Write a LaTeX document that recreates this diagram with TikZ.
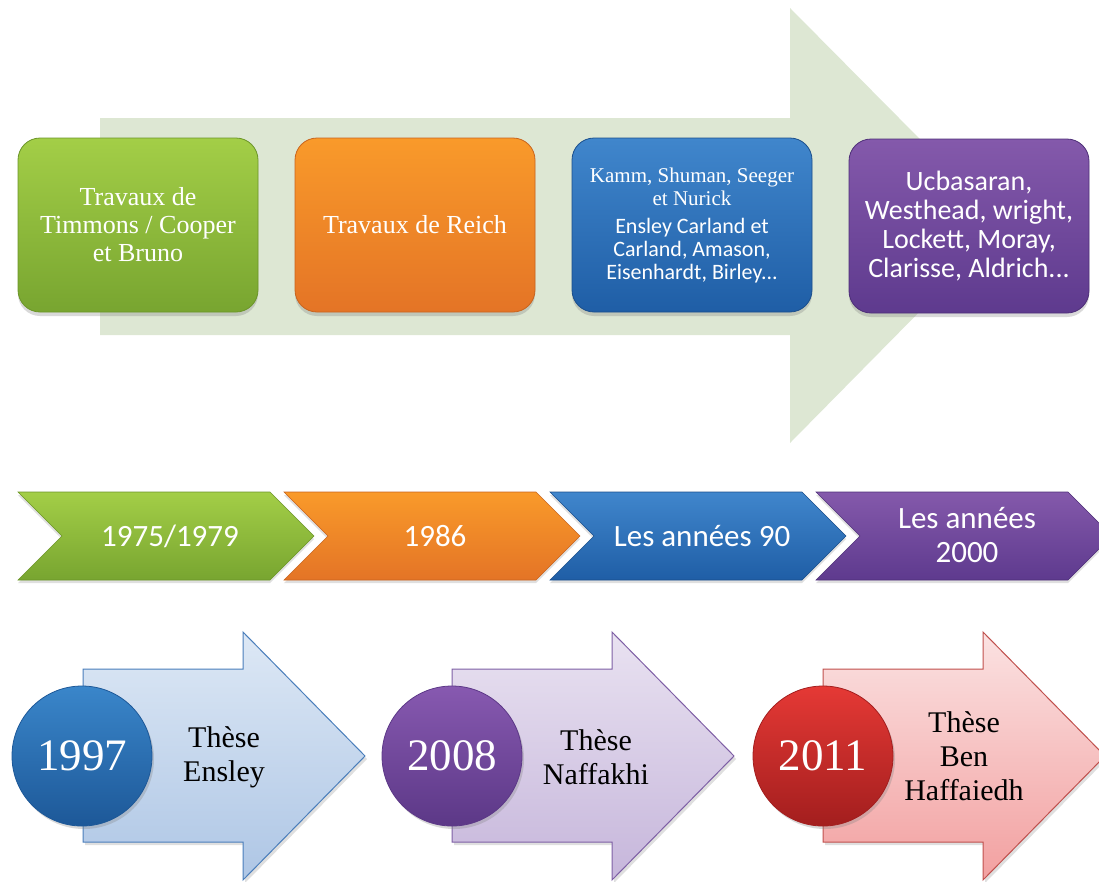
\documentclass[tikz,border=0pt]{standalone}
\usepackage{fontspec}
\setmainfont{Liberation Serif}
\newfontfamily\calibri{Carlito}
\usetikzlibrary{shadows}
\definecolor{grnT}{HTML}{A3CE47}\definecolor{grnB}{HTML}{78A530}\definecolor{grnD}{HTML}{6B9528}
\definecolor{orgT}{HTML}{F99A2A}\definecolor{orgB}{HTML}{E47426}\definecolor{orgD}{HTML}{C8641E}
\definecolor{bluT}{HTML}{4086CC}\definecolor{bluB}{HTML}{1F5EA6}\definecolor{bluD}{HTML}{1B4F8C}
\definecolor{purT}{HTML}{8459AB}\definecolor{purB}{HTML}{5E3A8E}\definecolor{purD}{HTML}{4E2F78}
\definecolor{bigA}{HTML}{DDE7D3}
\definecolor{lbT}{HTML}{DDE8F5}\definecolor{lbB}{HTML}{AEC6E5}\definecolor{lbD}{HTML}{4A7EBB}
\definecolor{lpT}{HTML}{E9E2F1}\definecolor{lpB}{HTML}{C6B6DB}\definecolor{lpD}{HTML}{7E5FA5}
\definecolor{lrT}{HTML}{FBE2E2}\definecolor{lrB}{HTML}{F2A0A0}\definecolor{lrD}{HTML}{C0504D}
\definecolor{cbT}{HTML}{3A86CA}\definecolor{cbB}{HTML}{1D5898}
\definecolor{cpT}{HTML}{8759B0}\definecolor{cpB}{HTML}{5C3887}
\definecolor{crT}{HTML}{E53935}\definecolor{crB}{HTML}{A31E1E}
\newcommand\serS{\fontsize{21}{22.5}\selectfont}
\newcommand\sanS{\calibri\fontsize{22}{23}\selectfont}
\tikzset{
  box/.style={rounded corners=22pt, minimum width=240pt, minimum height=174pt,
    text=white, align=center, line width=0.8pt,
    drop shadow={opacity=0.3, shadow xshift=0pt, shadow yshift=-4pt}},
  chev/.style={line width=0.6pt, drop shadow={opacity=0.25, shadow xshift=0pt, shadow yshift=-3pt}},
  chevtext/.style={text=white, align=center, font=\calibri\fontsize{31}{34}\selectfont},
  barrow/.style={line width=1pt, drop shadow={opacity=0.25, shadow xshift=2pt, shadow yshift=-3pt}},
  disc/.style={circle, minimum size=140pt, inner sep=0pt, text=white, line width=0.8pt,
    font=\fontsize{45}{50}\selectfont,
    drop shadow={opacity=0.3, shadow xshift=2pt, shadow yshift=-3pt}},
  thtext/.style={text=black, align=center, font=\fontsize{30}{34}\selectfont}
}
\begin{document}
\begin{tikzpicture}[x=1pt,y=-1pt]
\useasboundingbox (0,0) rectangle (1099,881);
% big background arrow
\fill[bigA] (100,118) -- (790,118) -- (790,8) -- (1005,225) -- (790,443) -- (790,335) -- (100,335) -- cycle;
% top boxes
\node[box, top color=grnT, bottom color=grnB, draw=grnD, font=\fontsize{26}{28}\selectfont] (b1) at (138,225)
  {Travaux de\\Timmons / Cooper\\et Bruno};
\node[box, top color=orgT, bottom color=orgB, draw=orgD, font=\fontsize{26}{28}\selectfont] (b2) at (415,225)
  {Travaux de Reich};
\node[box, top color=bluT, bottom color=bluB, draw=bluD] (b3) at (692,225) {};
\node[text=white, align=center, font=\serS] (b3a) at (692,187) {Kamm, Shuman, Seeger\\et Nurick};
\node[text=white, align=center, font=\sanS] (b3b) at (692,251) {Ensley Carland et\\Carland, Amason,\\Eisenhardt, Birley...};
\node[box, top color=purT, bottom color=purB, draw=purD, font=\calibri\fontsize{28}{29}\selectfont] (b4) at (969,226)
  {Ucbasaran,\\Westhead, wright,\\Lockett, Moray,\\Clarisse, Aldrich...};
% chevrons
\foreach \L/\ct/\cb/\cd in {18/grnT/grnB/grnD, 284/orgT/orgB/orgD, 550/bluT/bluB/bluD, 816/purT/purB/purD}{
  \path[chev, top color=\ct, bottom color=\cb, draw=\cd]
    (\L,492) -- (\L+252,492) -- (\L+296,536) -- (\L+252,580) -- (\L,580) -- (\L+44,536) -- cycle;
}
\node[chevtext] (c1) at (170,536) {1975/1979};
\node[chevtext] (c2) at (435,536) {1986};
\node[chevtext] (c3) at (702,536) {Les années 90};
\node[chevtext] (c4) at (967,535) {Les années\\2000};
% bottom arrows
\foreach \B/\ct/\cb/\cd in {83/lbT/lbB/lbD, 452/lpT/lpB/lpD, 823/lrT/lrB/lrD}{
  \path[barrow, top color=\ct, bottom color=\cb, draw=\cd]
    (\B,669) -- (\B+160,669) -- (\B+160,632) -- (\B+282,756) -- (\B+160,880) -- (\B+160,842) -- (\B,842) -- cycle;
}
\node[disc, top color=cbT, bottom color=cbB, draw=cbB] (d1) at (82,756) {1997};
\node[disc, top color=cpT, bottom color=cpB, draw=cpB] (d2) at (452,756) {2008};
\node[disc, top color=crT, bottom color=crB, draw=crB] (d3) at (823,756) {2011};
\node[thtext] (t1) at (224,757) {Thèse\\Ensley};
\node[thtext] (t2) at (596,757) {Thèse\\Naffakhi};
\node[thtext] (t3) at (964,756) {Thèse\\Ben\\Haffaiedh};
\end{tikzpicture}
\end{document}
